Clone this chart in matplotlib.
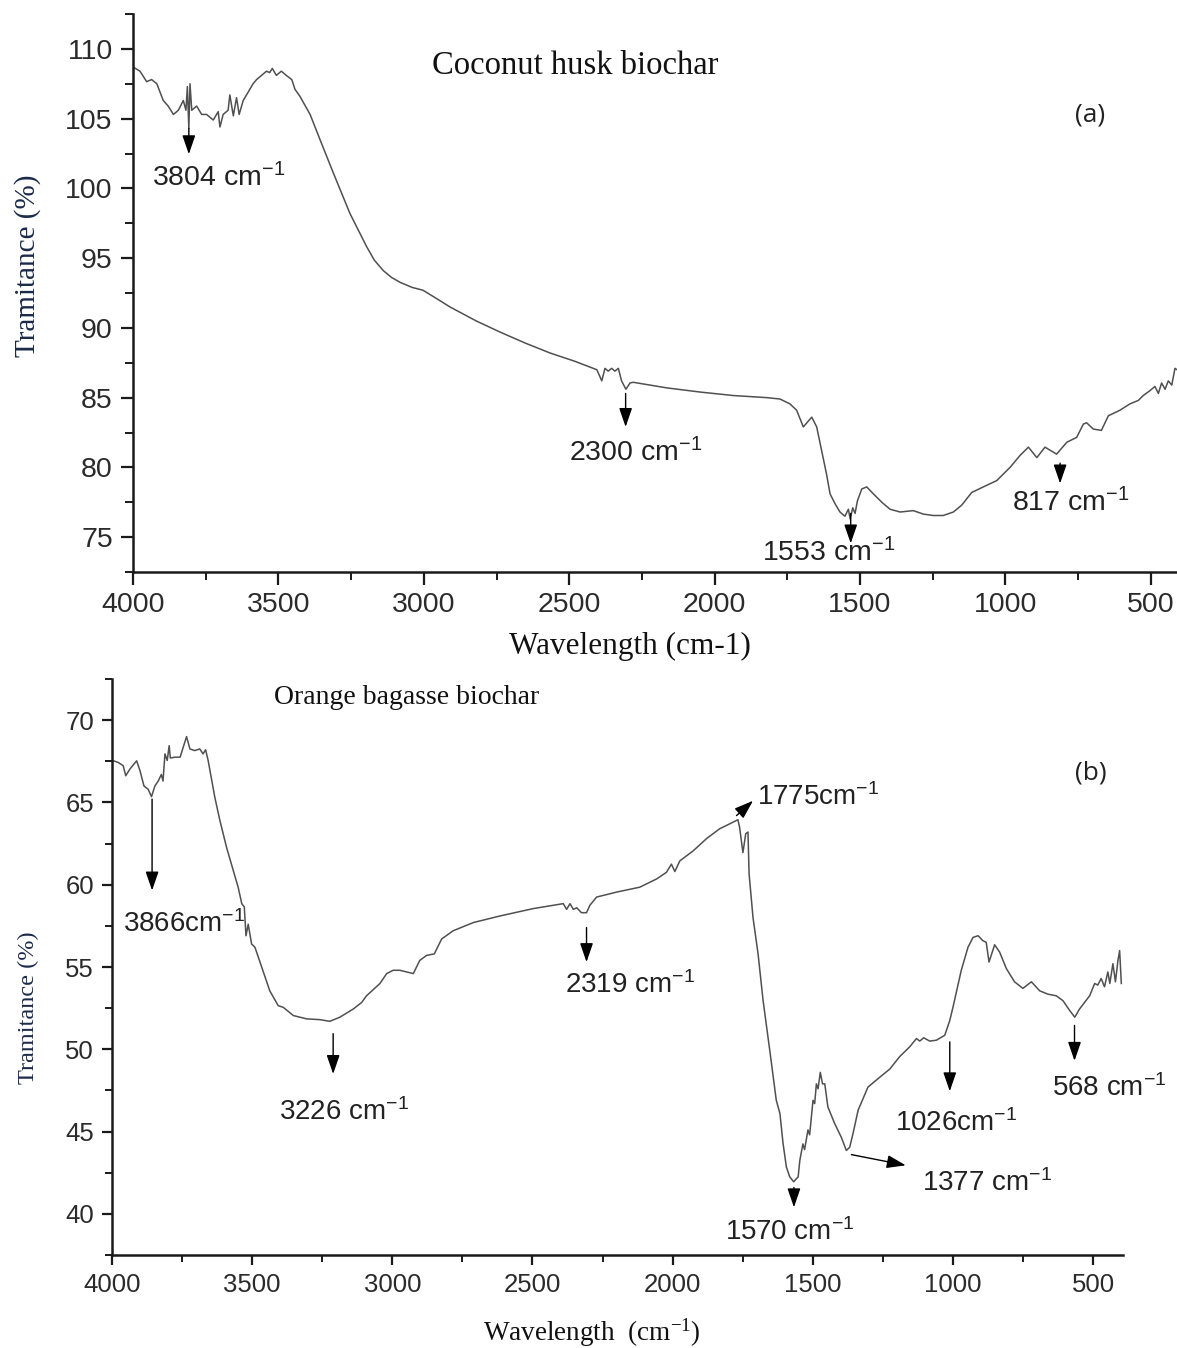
import matplotlib
matplotlib.use("Agg")
import matplotlib.pyplot as plt
from matplotlib.ticker import MultipleLocator

plt.rcParams['mathtext.default'] = 'regular'
plt.rcParams['mathtext.fontset'] = 'custom'
plt.rcParams['mathtext.rm'] = 'Liberation Sans'

# ---------------- data: (a) coconut husk biochar ----------------
coconut_wavenumber = [4000, 3976, 3953, 3936, 3918, 3907, 3896, 3879, 3861, 3844, 3827, 3818, 3813, 3808, 3804,
                      3798, 3781, 3764, 3747, 3724, 3707, 3701, 3690, 3673, 3667, 3655, 3644, 3635, 3621, 3604,
                      3587, 3575, 3558, 3541, 3530, 3521, 3507, 3490, 3473, 3454, 3443, 3426, 3391, 3357, 3311,
                      3254, 3196, 3170, 3139, 3110, 3080, 3040, 3003, 2956, 2910, 2820, 2738, 2650, 2566, 2480,
                      2405, 2388, 2377, 2366, 2354, 2343,
                      2331, 2320, 2305, 2291, 2280, 2165, 2050, 1936, 1821, 1775, 1741, 1718, 1695, 1666, 1649,
                      1632, 1615, 1603, 1586, 1569, 1552, 1540, 1534, 1525, 1517, 1509, 1494, 1477, 1454, 1425,
                      1397, 1362, 1317, 1282, 1248, 1214, 1179, 1150, 1116, 1076, 1030, 984, 950, 921, 892,
                      864, 824, 789, 755, 732, 721, 698, 670, 646, 606, 572, 543, 526, 503, 486,
                      474, 463, 451, 440, 428, 417, 410]
coconut_transmittance = [108.7, 108.4, 107.65, 107.8, 107.5, 106.9, 106.3, 105.9, 105.3, 105.6, 106.3, 105.6, 107.3, 104.3, 107.5,
                         105.6, 105.9, 105.3, 105.3, 104.9, 105.5, 104.4, 105.3, 105.6, 106.7, 105.2, 106.5, 105.3, 106.3, 106.9,
                         107.5, 107.8, 108.1, 108.4, 108.3, 108.6, 108.1, 108.4, 108.1, 107.8, 107.1, 106.6, 105.3, 103.5, 101.1,
                         98.2, 95.8, 94.85, 94.1, 93.6, 93.25, 92.9, 92.7, 92.1, 91.5, 90.5, 89.7, 88.9, 88.2, 87.6,
                         87.0, 86.2, 87.1, 86.9, 87.1, 86.9,
                         87.1, 86.2, 85.6, 86.05, 86.1, 85.7, 85.4, 85.15, 85.0, 84.9, 84.55, 84.1, 82.9, 83.6, 82.9,
                         81.2, 79.5, 78.1, 77.4, 76.8, 76.5, 77.0, 76.3, 77.1, 76.7, 77.6, 78.45, 78.6, 78.1, 77.5,
                         77.0, 76.8, 76.9, 76.65, 76.55, 76.55, 76.8, 77.3, 78.2, 78.6, 79.05, 80.0, 80.85, 81.45, 80.7,
                         81.45, 80.95, 81.8, 82.15, 83.1, 83.2, 82.75, 82.65, 83.7, 84.1, 84.55, 84.8, 85.15, 85.5, 85.8,
                         85.3, 86.05, 85.6, 86.2, 85.9, 87.1, 87.0]

# ---------------- data: (b) orange bagasse biochar ----------------
orange_wavenumber = [4000, 3995, 3978, 3960, 3951, 3936, 3912, 3900, 3886, 3871, 3859, 3847, 3835, 3824, 3818,
                     3811, 3803, 3796, 3792, 3775, 3757, 3746, 3734, 3722, 3705, 3687, 3675, 3666, 3657, 3633,
                     3615, 3591, 3567, 3550, 3537, 3528, 3522, 3514, 3502, 3490, 3466, 3437, 3407, 3389, 3353,
                     3306, 3258, 3223, 3187, 3139, 3109, 3092, 3044, 3020, 2997, 2973, 2925, 2902, 2878, 2850,
                     2824, 2783, 2711, 2616, 2497, 2390, 2378, 2366, 2354, 2342, 2325, 2307, 2295, 2271, 2200,
                     2117, 2057, 2022, 2004, 1992, 1974, 1927, 1879, 1832, 1796, 1767, 1761, 1749, 1739, 1731,
                     1727, 1713, 1695, 1677, 1653, 1630, 1617, 1606, 1594, 1582, 1568, 1552, 1546, 1535, 1529,
                     1517, 1511, 1499, 1493, 1487, 1481, 1473, 1465, 1457, 1446, 1422, 1398, 1380, 1368, 1356,
                     1338, 1303, 1261, 1225, 1190, 1154, 1130, 1118, 1104, 1083, 1059, 1029, 1011, 999, 970,
                     946, 928, 910, 893, 881, 871, 851, 833, 809, 780, 750, 720, 690, 661, 631,
                     607, 583, 565, 548, 530, 512, 494, 483, 471, 459, 447, 440, 429, 420, 411,
                     405, 399]
orange_transmittance = [67.55, 67.53, 67.43, 67.23, 66.62, 67.03, 67.53, 66.92, 66.0, 65.8, 65.35, 66.0, 66.3, 66.7, 66.3,
                        67.95, 67.55, 68.45, 67.7, 67.75, 67.75, 68.35, 69.0, 68.25, 68.15, 68.25, 67.95, 68.2, 67.55, 65.3,
                        63.9, 62.25, 60.85, 59.85, 58.85, 58.65, 56.9, 57.6, 56.4, 56.2, 55.0, 53.55, 52.65, 52.55, 52.05,
                        51.85, 51.8, 51.7, 51.95, 52.45, 52.85, 53.25, 54.0, 54.6, 54.8, 54.8, 54.6, 55.4, 55.7, 55.8,
                        56.7, 57.2, 57.7, 58.1, 58.55, 58.85, 58.5, 58.85, 58.5, 58.6, 58.3, 58.3, 58.75, 59.25, 59.55,
                        59.85, 60.35, 60.75, 61.25, 60.8, 61.45, 62.05, 62.8, 63.4, 63.7, 63.95, 63.5, 61.95, 63.1, 63.2,
                        60.65, 58.0, 55.8, 52.95, 49.9, 46.9, 46.1, 44.3, 42.85, 42.25, 41.95, 42.25, 43.25, 44.25, 43.9,
                        45.1, 44.8, 46.9, 46.7, 47.9, 47.6, 48.6, 47.9, 47.9, 46.5, 45.5, 44.65, 43.85, 44.05, 44.9,
                        46.3, 47.7, 48.3, 48.8, 49.55, 50.15, 50.65, 50.5, 50.7, 50.5, 50.55, 50.85, 51.75, 52.6, 54.8,
                        56.2, 56.8, 56.9, 56.6, 56.5, 55.3, 56.35, 55.9, 54.9, 54.1, 53.7, 54.1, 53.55, 53.35, 53.25,
                        52.95, 52.35, 51.95, 52.45, 52.85, 53.25, 54.0, 53.9, 54.3, 53.8, 54.7, 54.0, 55.2, 54.1, 55.4,
                        56.0, 54.0]

# ---------------- peak annotations ----------------
coconut_peak_labels = ['3804 cm$^{-1}$', '2300 cm$^{-1}$', '1553 cm$^{-1}$', '817 cm$^{-1}$']
coconut_text_pos = [(3935, 100.75), (2500, 81.07), (1837, 73.9), (978, 77.48)]
coconut_arrows = [((3808, 104.3), (3808, 102.45)), ((2306, 85.3), (2306, 82.9)),
                  ((1532, 76.7), (1532, 74.55)), ((812, 80.3), (812, 78.85))]

orange_peak_labels = ['3866cm$^{-1}$', '3226 cm$^{-1}$', '2319 cm$^{-1}$', '1775cm$^{-1}$',
                      '1570 cm$^{-1}$', '1377 cm$^{-1}$', '1026cm$^{-1}$', '568 cm$^{-1}$']
orange_text_pos = [(3960, 57.58), (3403, 46.19), (2384, 53.88), (1700, 65.3),
                   (1814, 38.91), (1109, 41.88), (1207, 45.52), (645, 47.67)]
orange_arrows = [((3857, 65.2), (3857, 59.65)), ((3211, 50.95), (3211, 48.5)),
                 ((2307, 57.4), (2307, 55.3)), ((1772, 64.2), (1713, 65.1)),
                 ((1567, 41.6), (1567, 40.4)), ((1362, 43.6), (1168, 42.95)),
                 ((1011, 50.45), (1011, 47.45)), ((566, 51.45), (566, 49.3))]

# ---------------- figure ----------------
W, H = 1177, 1348
fig = plt.figure(figsize=(W / 100, H / 100), dpi=100)

def px_rect(l, t, r, b):
    return [l / W, 1 - b / H, (r - l) / W, (b - t) / H]

ax_a = fig.add_axes(px_rect(133, 14, 1177, 572))
ax_b = fig.add_axes(px_rect(112, 679, 1123, 1255))

TICK_COL = '#2b2b2b'
LINE_COL = '#505050'
SANS = 'Liberation Sans'
SERIF = 'Liberation Serif'


def style_axes(ax, xlim, ylim, ymajor, tick_fs, major_len, minor_len, pad):
    ax.set_xlim(*xlim)
    ax.set_ylim(*ylim)
    for s in ('top', 'right'):
        ax.spines[s].set_visible(False)
    for s in ('left', 'bottom'):
        ax.spines[s].set_linewidth(1.8)
        ax.spines[s].set_color('#1a1a1a')
    ax.xaxis.set_major_locator(MultipleLocator(500))
    ax.xaxis.set_minor_locator(MultipleLocator(250))
    ax.yaxis.set_major_locator(MultipleLocator(ymajor))
    ax.yaxis.set_minor_locator(MultipleLocator(ymajor / 2))
    ax.tick_params(which='major', direction='out', length=major_len, width=1.6,
                   color='#1a1a1a', labelsize=tick_fs, labelcolor=TICK_COL, pad=pad)
    ax.tick_params(which='minor', direction='out', length=minor_len, width=1.4, color='#1a1a1a')
    for lab in ax.get_xticklabels() + ax.get_yticklabels():
        lab.set_fontfamily(SANS)
    ax.patch.set_alpha(0)


ax_a.plot(coconut_wavenumber, coconut_transmittance, color=LINE_COL, lw=1.1)
style_axes(ax_a, (4000, 410), (72.5, 112.5), 5, 20.5, 9, 5.5, 5.5)

ax_b.plot(orange_wavenumber, orange_transmittance, color=LINE_COL, lw=1.1)
style_axes(ax_b, (4000, 393), (37.5, 72.5), 5, 18.5, 7.5, 5, 5.5)

ARROW = dict(arrowstyle='-|>,head_length=0.58,head_width=0.2', color='black', lw=1.0,
             shrinkA=0, shrinkB=0, mutation_scale=20)


def annotate(ax, labels, text_pos, arrows, fs):
    for lab, (tx, ty), (tail, tip) in zip(labels, text_pos, arrows):
        ax.text(tx, ty, lab, fontsize=fs, family=SANS, color='#222222', ha='left', va='center')
        ax.annotate('', xy=tip, xytext=tail, arrowprops=ARROW)


annotate(ax_a, coconut_peak_labels, coconut_text_pos, coconut_arrows, 20.5)
annotate(ax_b, orange_peak_labels, orange_text_pos, orange_arrows, 20)

# titles, panel tags and axis labels
fig.text(575 / W, 1 - 66 / H, 'Coconut husk biochar', family=SERIF, fontsize=23.5,
         color='#111111', ha='center', va='center')
fig.text(1090 / W, 1 - 115 / H, '(a)', family='Open Sans', fontsize=19,
         color='#222222', ha='center', va='center')
fig.text(407 / W, 1 - 697 / H, 'Orange bagasse biochar', family=SERIF, fontsize=20,
         color='#111111', ha='center', va='center')
fig.text(1091 / W, 1 - 773 / H, '(b)', family='Open Sans', fontsize=19,
         color='#222222', ha='center', va='center')

fig.text(630 / W, 1 - 646 / H, 'Wavelength (cm-1)', family=SERIF, fontsize=22.5,
         color='#111111', ha='center', va='center')
fig.text(592 / W, 1 - 1333 / H, 'Wavelength  (cm$^{-1}$)', family=SERIF, fontsize=19.5,
         color='#111111', ha='center', va='center')

fig.text(28 / W, 1 - 266 / H, 'Tramitance (%)', family=SERIF, fontsize=21,
         color='#1c2a4a', ha='center', va='center', rotation=90)
fig.text(28 / W, 1 - 1008 / H, 'Tramitance (%)', family=SERIF, fontsize=17.5,
         color='#1c2a4a', ha='center', va='center', rotation=90)

fig.savefig('out.png', dpi=100, facecolor='white')
